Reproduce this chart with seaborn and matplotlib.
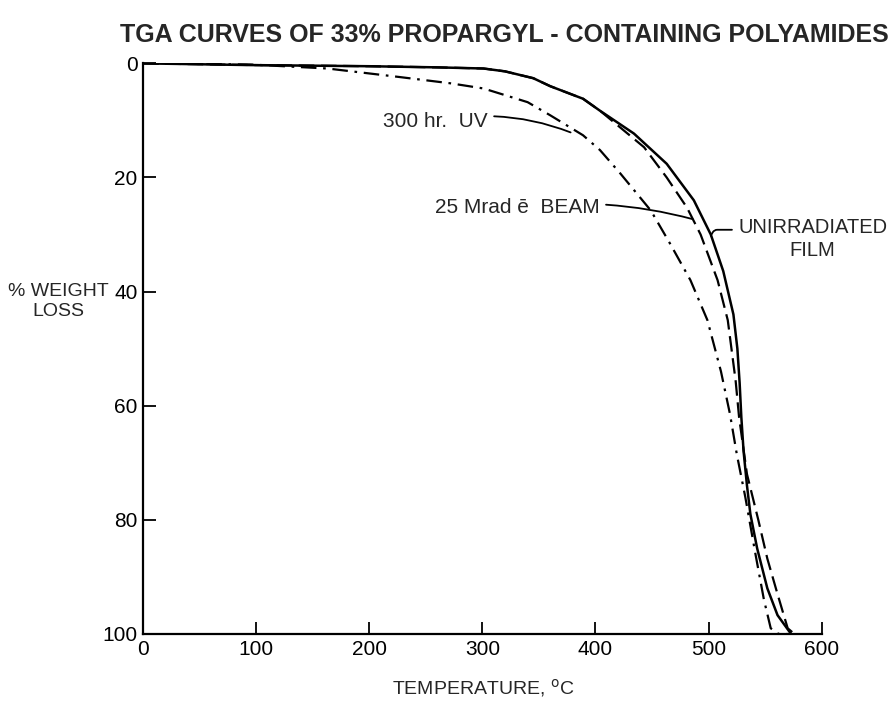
import seaborn as sns
import matplotlib.pyplot as plt
import pandas as pd

# TGA curves
temp_unirr = [0, 95, 200, 260, 301, 320, 345, 360, 389, 404, 434, 463, 487, 502, 513, 522, 525.5, 527.5, 529, 531, 534, 537, 543, 552, 561, 573]
loss_unirr = [0, 0.3, 0.5, 0.7, 0.9, 1.4, 2.6, 4.0, 6.2, 8.3, 12.3, 17.6, 24, 30, 36.4, 44, 50, 56, 62, 68, 74, 79, 85, 92, 96.7, 100]

temp_beam = [0, 100, 200, 260, 301, 320, 345, 360, 389, 404, 443, 463, 481, 493, 508, 517, 524, 527, 534, 544, 552, 561, 570, 576]
loss_beam = [0, 0.3, 0.5, 0.7, 0.9, 1.4, 2.6, 4.0, 6.2, 8.3, 14.7, 20, 25.3, 30, 38, 45, 55.7, 62, 72, 80, 86.8, 93, 99, 100]

temp_uv = [0, 95, 163, 227, 272, 301, 340, 360, 389, 404, 422, 449, 466, 484, 499, 511, 519, 525, 532.5, 541.5, 549, 555, 562, 570]
loss_uv = [0, 0.2, 0.9, 2.4, 3.5, 4.4, 6.8, 9.1, 12.6, 15.2, 19.3, 25.8, 31.6, 38, 45, 54, 61.5, 68.5, 76, 86, 94, 99, 100, 100]

x_ticks = [0, 100, 200, 300, 400, 500, 600]
y_ticks = [0, 20, 40, 60, 80, 100]

sns.set_style("ticks")
plt.rcParams['font.family'] = ['Liberation Sans', 'DejaVu Sans']

fig = plt.figure(figsize=(8.95, 7.01), dpi=100)
ax = fig.add_axes([0.160, 0.0956, 0.758, 0.814])

curves = [
    (temp_unirr, loss_unirr, '-', 1.8),
    (temp_beam, loss_beam, (0, (7, 3)), 1.6),
    (temp_uv, loss_uv, (0, (7, 3, 1.2, 3)), 1.6),
]
for t, w, ls, lw in curves:
    df = pd.DataFrame({'temp': t, 'loss': w})
    sns.lineplot(data=df, x='temp', y='loss', ax=ax, color='black',
                 linewidth=lw, linestyle=ls, sort=False, estimator=None)

ax.set_xlim(0, 600)
ax.set_ylim(100, 0)
ax.set_xticks(x_ticks)
ax.set_yticks(y_ticks)
ax.tick_params(direction='in', length=9, width=1.3, labelsize=15, colors='black')
ax.tick_params(axis='x', pad=4)
ax.tick_params(axis='y', pad=4)
sns.despine(ax=ax)
for s in ['left', 'bottom']:
    ax.spines[s].set_linewidth(1.6)
    ax.spines[s].set_color('black')

ax.set_xlabel('TEMPERATURE, $^{\\mathrm{o}}$C', fontsize=14, va='center')
ax.xaxis.set_label_coords(0.501, -0.095)
ax.set_ylabel('% WEIGHT\nLOSS', fontsize=14, rotation=0, ha='center', va='center',
              linespacing=1.2)
ax.yaxis.set_label_coords(-0.125, 0.583)

fig.text(0.563, 0.950, 'TGA CURVES OF 33% PROPARGYL - CONTAINING POLYAMIDES',
         ha='center', va='center', fontsize=18, fontweight='bold')

line_kw = dict(arrowstyle='-', color='black', lw=1.3, shrinkA=2, shrinkB=0)
ax.annotate('300 hr.  UV', xy=(378, 12.1), xytext=(305, 10.2), fontsize=15,
            ha='right', va='center',
            arrowprops=dict(connectionstyle='arc3,rad=-0.15', **line_kw))
ax.annotate('25 Mrad ē  BEAM', xy=(486, 27.3), xytext=(404, 25.3), fontsize=15,
            ha='right', va='center',
            arrowprops=dict(connectionstyle='arc3,rad=-0.1', **line_kw))
ax.annotate('UNIRRADIATED\nFILM', xy=(502, 30.2), xytext=(592, 30.8), fontsize=14.5,
            ha='center', va='center', annotation_clip=False, linespacing=1.3,
            arrowprops=dict(connectionstyle='angle,angleA=180,angleB=60,rad=3',
                            relpos=(0, 0.72), **line_kw))

fig.savefig('out.png', dpi=100)
